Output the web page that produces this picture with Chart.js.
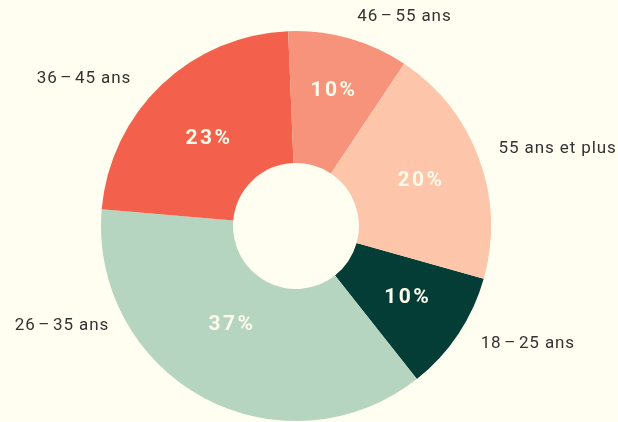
<!DOCTYPE html>
<html>
<head>
<meta charset="utf-8">
<script src="https://cdn.jsdelivr.net/npm/chart.js@4/dist/chart.umd.min.js"></script>
<style>
  html, body { margin: 0; padding: 0; background: #fffef0; }
  #wrap { width: 618px; height: 422px; position: relative; }
</style>
</head>
<body>
<div id="wrap"><canvas id="c" width="618" height="422"></canvas></div>
<script>
const categories = ['18 – 25 ans', '26 – 35 ans', '36 – 45 ans', '46 – 55 ans', '55 ans et plus'];
const shares = [10, 37, 23, 10, 20];
const percentLabels = ['10%', '37%', '23%', '10%', '20%'];
const colors = ['#043d36', '#b5d5c0', '#f3614d', '#f6937a', '#fdc5a9'];

// placement of texts: angle (deg, clockwise from top) and distance as multiple of outer radius
const outerLabelPlacement = [
  { angle: 116.8, dist: 1.332 },
  { angle: 247.1, dist: 1.303 },
  { angle: 304.9, dist: 1.326 },
  { angle: 27.3,  dist: 1.212 },
  { angle: 73.4,  dist: 1.400 }
];
const innerLabelPlacement = [
  { angle: 123.0, dist: 0.677 },
  { angle: 213.3, dist: 0.607 },
  { angle: 314.7, dist: 0.635 },
  { angle: 15.3,  dist: 0.718 },
  { angle: 70.1,  dist: 0.676 }
];

function polar(p, pl) {
  const a = (pl.angle - 90) * Math.PI / 180;
  return [p.x + Math.cos(a) * p.outerRadius * pl.dist, p.y + Math.sin(a) * p.outerRadius * pl.dist];
}

const labelPlugin = {
  id: 'sliceLabels',
  afterDatasetsDraw(chart) {
    const ctx = chart.ctx;
    const meta = chart.getDatasetMeta(0);
    ctx.save();
    ctx.textAlign = 'center';
    ctx.textBaseline = 'middle';
    meta.data.forEach((arc, i) => {
      const p = arc.getProps(['x', 'y', 'outerRadius'], true);
      const [ix, iy] = polar(p, innerLabelPlacement[i]);
      ctx.fillStyle = '#fffbea';
      ctx.font = 'bold 21px Roboto';
      ctx.letterSpacing = '2.5px';
      ctx.fillText(percentLabels[i], ix + 1, iy);
      const [ox, oy] = polar(p, outerLabelPlacement[i]);
      ctx.fillStyle = '#333333';
      ctx.font = '17px Roboto';
      ctx.letterSpacing = '0.9px';
      ctx.fillText(categories[i].replace(' – ', '\u200A–\u200A'), ox, oy + 1);
    });
    ctx.restore();
  }
};

new Chart(document.getElementById('c'), {
  type: 'doughnut',
  data: {
    labels: categories,
    datasets: [{
      data: shares,
      backgroundColor: colors,
      borderWidth: 0,
      hoverOffset: 0
    }]
  },
  options: {
    responsive: false,
    animation: false,
    rotation: 105.7,
    cutout: '32.3%',
    layout: { padding: { left: 101, right: 127, top: 31, bottom: 1 } },
    plugins: {
      legend: { display: false },
      tooltip: { enabled: false }
    }
  },
  plugins: [labelPlugin]
});
</script>
</body>
</html>
